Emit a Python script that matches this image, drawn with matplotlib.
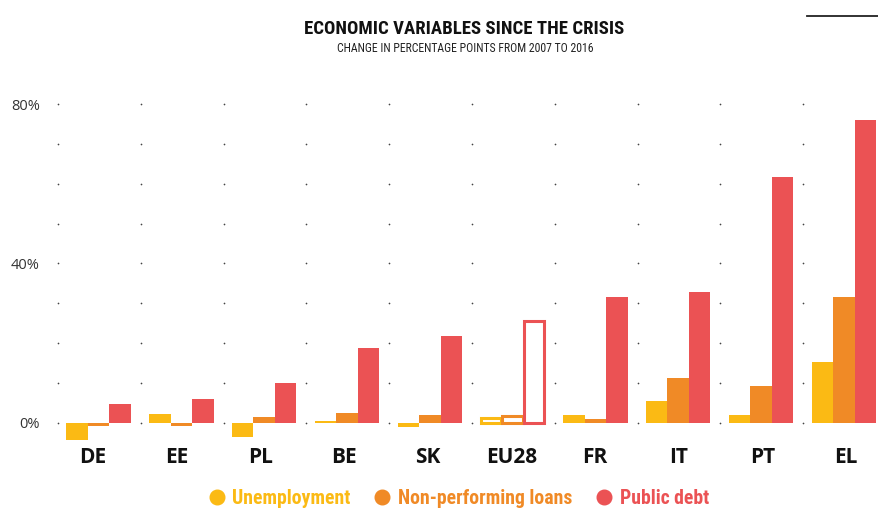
import numpy as np
import matplotlib.pyplot as plt
from matplotlib.lines import Line2D

# 데이터 (2007 -> 2016 변화, %p)
countries = ['DE', 'EE', 'PL', 'BE', 'SK', 'EU28', 'FR', 'IT', 'PT', 'EL']
unemployment = [-4.4, 2.1, -3.6, 0.5, -1.2, 1.2, 1.9, 5.5, 1.9, 15.2]
npl = [-0.9, -1.0, 1.4, 2.4, 1.9, 1.6, 0.9, 11.2, 9.2, 31.6]
public_debt = [4.6, 5.9, 9.9, 18.8, 21.8, 25.5, 31.6, 32.8, 61.8, 75.9]
series_names = ['Unemployment', 'Non-performing loans', 'Public debt']
yticks = [0, 40, 80]
ytick_labels = ['0%', '40%', '80%']

colors = ['#FBBA14', '#F08A26', '#EB5254']
narrow = 'Roboto Condensed'

fig = plt.figure(figsize=(8.79, 5.09), dpi=100)
ax = fig.add_axes([0.066, 0.123, 0.934, 0.688])
ax.set_xlim(-0.5, 9.415)
ax.set_ylim(-6, 82)

x = np.arange(len(countries))
width = 0.26
offsets = [-0.27, -0.01, 0.25]
outline = countries.index('EU28')

for vals, off, c in zip([unemployment, npl, public_debt], offsets, colors):
    for i, v in enumerate(vals):
        if i == outline:
            # EU28은 테두리만
            ax.bar(x[i] + off, v, width - 0.015, facecolor='white', edgecolor=c,
                   linewidth=2.2, zorder=3)
        else:
            ax.bar(x[i] + off, v, width, color=c, linewidth=0, zorder=3)

# 점 격자
gx, gy = np.meshgrid(x - 0.5, np.arange(0, 81, 10))
ax.scatter(gx.ravel(), gy.ravel(), s=1.5, color='#444444', zorder=1, clip_on=False, linewidths=0)

# 국가 라벨 (막대 묶음보다 살짝 왼쪽)
label_x = x * 1.011 - 0.08
for lx, name in zip(label_x, countries):
    ax.text(lx, -10.2, name, ha='center', va='baseline', fontsize=15,
            fontweight='bold', family='Open Sans', color='#111111', clip_on=False)

ax.set_yticks(yticks)
ax.set_yticklabels(ytick_labels, fontsize=10.5, family='Open Sans', color='#333333')
ax.tick_params(axis='y', length=0, pad=13)
ax.set_xticks([])
for s in ax.spines.values():
    s.set_visible(False)

fig.text(464 / 879, 1 - 33.5 / 509, 'ECONOMIC VARIABLES SINCE THE CRISIS', ha='center', va='baseline',
         fontsize=13.5, fontweight='bold', family=narrow, color='#111111')
fig.text(465 / 879, 1 - 52 / 509, 'CHANGE IN PERCENTAGE POINTS FROM 2007 TO 2016', ha='center',
         va='baseline', fontsize=8.5, family=narrow, color='#222222')
fig.add_artist(Line2D([807 / 879, 1.0], [1 - 16 / 509, 1 - 16 / 509], color='#222222', linewidth=1.3))

handles = [Line2D([], [], marker='o', linestyle='', markersize=10.5, color=c) for c in colors]
leg = fig.legend(handles, series_names, loc='center', bbox_to_anchor=(459 / 879, 1 - 498 / 509),
                 ncol=3, frameon=False, handlelength=0.8, handletextpad=0.4, columnspacing=1.2,
                 prop={'family': narrow, 'weight': 'bold', 'size': 14.2})
for t, c in zip(leg.get_texts(), colors):
    t.set_color(c)

fig.savefig('out.png', dpi=100)
